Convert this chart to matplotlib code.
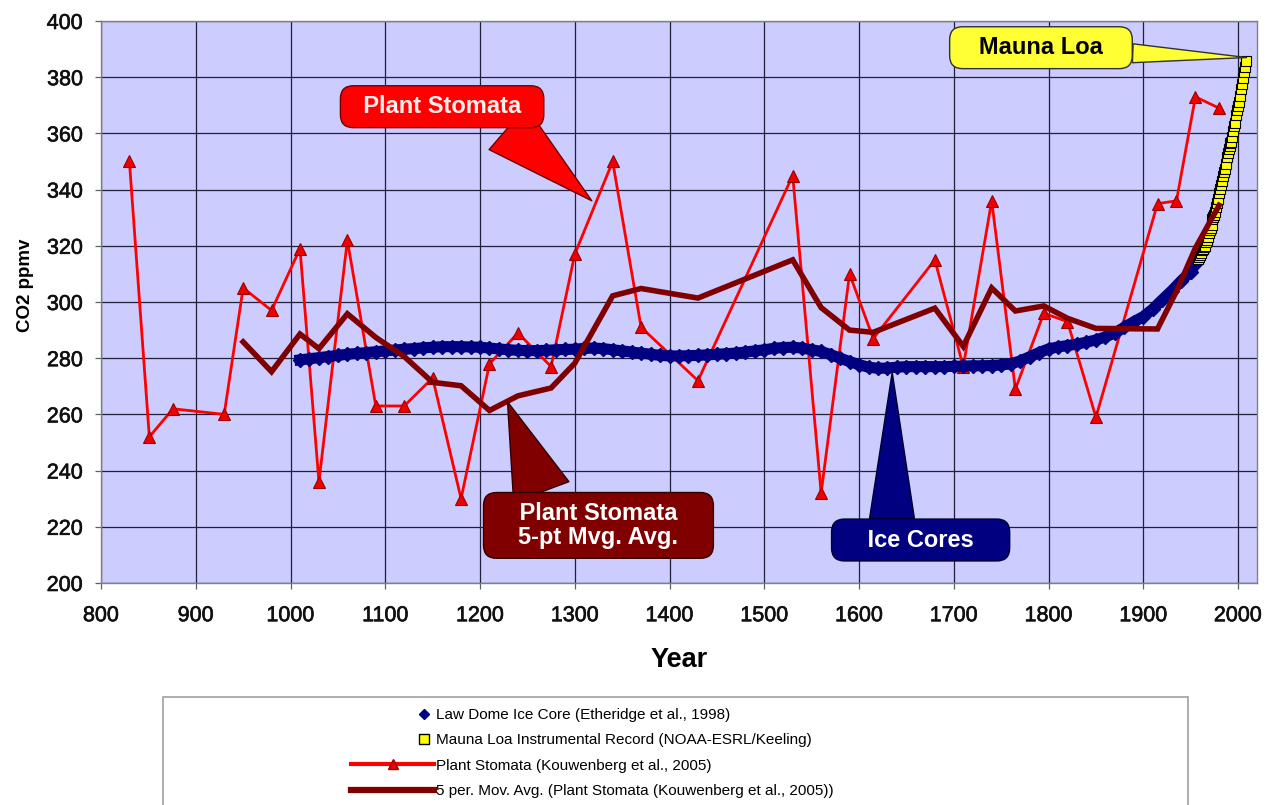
import matplotlib
matplotlib.use("Agg")
import matplotlib.pyplot as plt
import matplotlib.patheffects as pe
import numpy as np
import pandas as pd
from matplotlib.lines import Line2D
from matplotlib.patches import Rectangle
from matplotlib.legend_handler import HandlerLine2DCompound

plt.rcParams['font.family'] = ['Liberation Sans', 'DejaVu Sans']

# ---------------- data ----------------
stomata_years = [830, 851, 876, 930, 950, 980, 1010, 1030, 1060, 1090, 1120, 1150,
                 1180, 1210, 1240, 1275, 1300, 1340, 1370, 1430, 1530, 1560, 1590,
                 1615, 1680, 1710, 1740, 1765, 1795, 1820, 1850, 1915, 1935, 1955, 1980]
stomata_co2 = [350, 252, 262, 260, 305, 297, 319, 236, 322, 263, 263, 273,
               230, 278, 289, 277, 317, 350, 291, 272, 345, 232, 310,
               287, 315, 277, 336, 269, 296, 293, 259, 335, 336, 373, 369]

ice_years = [1010, 1020, 1030, 1040, 1050, 1060, 1070, 1080, 1090, 1100,
             1110, 1120, 1130, 1140, 1150, 1160, 1170, 1180, 1190, 1200,
             1210, 1220, 1230, 1240, 1250, 1260, 1270, 1280, 1290, 1300,
             1310, 1320, 1330, 1340, 1350, 1360, 1370, 1380, 1390, 1400,
             1410, 1420, 1430, 1440, 1450, 1460, 1470, 1480, 1490, 1500,
             1510, 1520, 1530, 1540, 1550, 1560, 1570, 1580, 1590, 1600,
             1610, 1620, 1630, 1640, 1650, 1660, 1670, 1680, 1690, 1700,
             1710, 1720, 1730, 1740, 1750, 1760, 1770, 1780, 1790, 1800,
             1810, 1820, 1830, 1840, 1850, 1860, 1870, 1880, 1890, 1900,
             1910, 1920, 1930, 1940, 1950, 1955]
ice_co2 = [279.4, 279.8, 280.2, 280.6, 281.0, 281.4, 281.7, 282.0, 282.3, 282.6,
           282.9, 283.2, 283.4, 283.7, 283.9, 284.1, 284.1, 284.1, 284.0, 283.9,
           283.6, 283.3, 283.0, 282.8, 282.7, 282.7, 282.8, 283.0, 283.1, 283.2,
           283.5, 283.6, 283.4, 283.0, 282.6, 282.2, 281.8, 281.4, 281.0, 280.8,
           280.8, 280.9, 281.0, 281.2, 281.4, 281.6, 281.8, 282.2, 282.6, 283.0,
           283.5, 283.8, 283.9, 283.6, 283.0, 282.4, 281.3, 280.0, 278.8, 277.7,
           276.8, 276.4, 276.5, 276.8, 277.0, 277.0, 277.0, 277.0, 277.0, 277.1,
           277.2, 277.3, 277.3, 277.4, 277.6, 278.0, 279.0, 280.5, 282.0, 283.3,
           284.0, 284.5, 285.0, 285.7, 286.5, 287.6, 289.0, 291.0, 293.0, 294.8,
           297.5, 300.8, 304.0, 307.5, 310.8, 313.5]

ml_years = [1958, 1959, 1960, 1961, 1962, 1963, 1964, 1965, 1966, 1967, 1968, 1969,
            1970, 1971, 1972, 1973, 1974, 1975, 1976, 1977, 1978, 1979, 1980, 1981,
            1982, 1983, 1984, 1985, 1986, 1987, 1988, 1989, 1990, 1991, 1992, 1993,
            1994, 1995, 1996, 1997, 1998, 1999, 2000, 2001, 2002, 2003, 2004, 2005,
            2006, 2007, 2008]
ml_co2 = [315.3, 316.0, 316.9, 317.6, 318.5, 319.0, 319.6, 320.0, 321.4, 322.2, 323.0, 324.6,
          325.7, 326.3, 327.5, 329.7, 330.2, 331.1, 332.0, 333.8, 335.4, 336.8, 338.8, 340.1,
          341.5, 343.1, 344.7, 346.1, 347.4, 349.2, 351.6, 353.1, 354.4, 355.6, 356.5, 357.1,
          358.8, 360.8, 362.6, 363.7, 366.7, 368.4, 369.6, 371.1, 373.3, 375.8, 377.5, 379.8,
          381.9, 383.8, 385.6]

x_ticks = [800, 900, 1000, 1100, 1200, 1300, 1400, 1500, 1600, 1700, 1800, 1900, 2000]
y_ticks = [200, 220, 240, 260, 280, 300, 320, 340, 360, 380, 400]

legend_labels = ["Law Dome Ice Core (Etheridge et al., 1998)",
                 "Mauna Loa Instrumental Record (NOAA-ESRL/Keeling)",
                 "Plant Stomata (Kouwenberg et al., 2005)",
                 "5 per. Mov. Avg. (Plant Stomata (Kouwenberg et al., 2005))"]

# 5-period moving average trendline of the stomata series (as Excel draws it)
ma = pd.Series(stomata_co2, index=stomata_years).rolling(5).mean().dropna()

# ---------------- figure ----------------
W, H = 1271, 805
fig = plt.figure(figsize=(W / 100, H / 100), dpi=100)
ax = fig.add_axes([101 / W, 1 - 583 / H, (1257 - 101) / W, (583 - 21) / H])
ax.set_facecolor('#CCCCFF')

ax.set_xlim(800, 2020)
ax.set_ylim(200, 400)
ax.set_xticks(x_ticks)
ax.set_yticks(y_ticks)
ax.grid(True, color='#20203a', lw=0.9, zorder=1)
ax.set_axisbelow(True)
for s in ax.spines.values():
    s.set_color('#808080')
    s.set_linewidth(1.0)
ax.tick_params(direction='out', length=4, width=0.9, color='#606060',
               labelsize=15.5, labelcolor='#101010')
ax.tick_params(axis='x', pad=12)
ax.tick_params(axis='y', pad=9)
for lab in ax.get_xticklabels() + ax.get_yticklabels():
    lab.set_path_effects([pe.withStroke(linewidth=0.45, foreground='#101010')])

ax.set_xlabel('Year', fontsize=19.5, fontweight='bold', labelpad=15)
ax.set_ylabel('CO2 ppmv', fontsize=13.5, fontweight='bold')
ax.yaxis.set_label_coords(-0.058, 0.53)

# series
ax.plot(stomata_years, stomata_co2, color='#FF0000', lw=2.0, marker='^', ms=8,
        mfc='#EE0000', mec='#990000', mew=0.8, zorder=3)
ax.plot(ice_years, ice_co2, color='#000080', lw=8, marker='D', ms=7,
        mfc='#000080', mec='#000080', zorder=4)
ax.plot(ml_years, ml_co2, ls='none', marker='s', ms=6.5, mfc='#FFFF00',
        mec='#000000', mew=0.8, zorder=5)
ax.plot(ma.index, ma.values, color='#800000', lw=4, zorder=6, solid_joinstyle='miter')


# callouts
def callout(text, xy, xytext, fc, ec, tc, tw, relpos, fs=17):
    ax.annotate(text, xy=xy, xytext=xytext, ha='center', va='center',
                fontsize=fs, fontweight='bold', color=tc, zorder=10, linespacing=1.05,
                bbox=dict(boxstyle='round,pad=0.4,rounding_size=0.55', fc=fc, ec=ec, lw=1.0),
                arrowprops=dict(arrowstyle='wedge,tail_width=%s,shrink_factor=0.5' % tw,
                                fc=fc, ec=ec, lw=1.0, shrinkA=0, shrinkB=0, relpos=relpos))


callout('  Plant Stomata  ', (1318, 336), (1160, 369.5), '#FF0000', '#700000', '#FFEEEE',
        2.4, (0.72, 0.5))
callout('    Plant Stomata    \n5-pt Mvg. Avg.', (1229, 264.5), (1325, 220.5),
        '#800000', '#300000', '#FFFFFF', 2.5, (0.28, 0.6))
callout('    Ice Cores    ', (1635, 275), (1665, 215.3), '#000080', '#000030', '#FFFFFF',
        1.9, (0.32, 0.8))
callout('   Mauna Loa   ', (2009, 387), (1792, 390.5), '#FFFF33', '#303030', '#000000',
        0.8, (0.9, 0.3))

# legend frame (extends past bottom edge as in reference)
fig.patches.append(Rectangle((163 / W, -0.02), (1188 - 163) / W, 0.02 + 1 - 697 / H,
                             transform=fig.transFigure, fc='white', ec='#a0a0a0', lw=1.2))


class RightMarkerHandler(HandlerLine2DCompound):
    def get_xdata(self, legend, xdescent, ydescent, width, height, fontsize):
        xdata, _ = super().get_xdata(legend, xdescent, ydescent, width, height, fontsize)
        return xdata, np.array([-xdescent + width - 0.65 * fontsize])


h_ice = Line2D([], [], ls='none', marker='D', ms=5, mfc='#000080', mec='#000080')
h_ml = Line2D([], [], ls='none', marker='s', ms=6.5, mfc='#FFFF00', mec='#000000', mew=1.0)
h_st = Line2D([], [], color='#FF0000', lw=3, marker='^', ms=7, mfc='#EE0000', mec='#990000')
h_ma = Line2D([], [], color='#800000', lw=4.5)

fig.legend([h_ice, h_ml, h_st, h_ma], legend_labels, loc='upper left',
           bbox_to_anchor=(351 / W, 1 - 708 / H), frameon=False,
           handlelength=5.45, handletextpad=0.1, labelspacing=0.74, borderpad=0,
           borderaxespad=0, prop={'family': 'Liberation Sans', 'size': 11},
           handler_map={h_ice: RightMarkerHandler(), h_ml: RightMarkerHandler()})

fig.savefig('out.png', dpi=100)
